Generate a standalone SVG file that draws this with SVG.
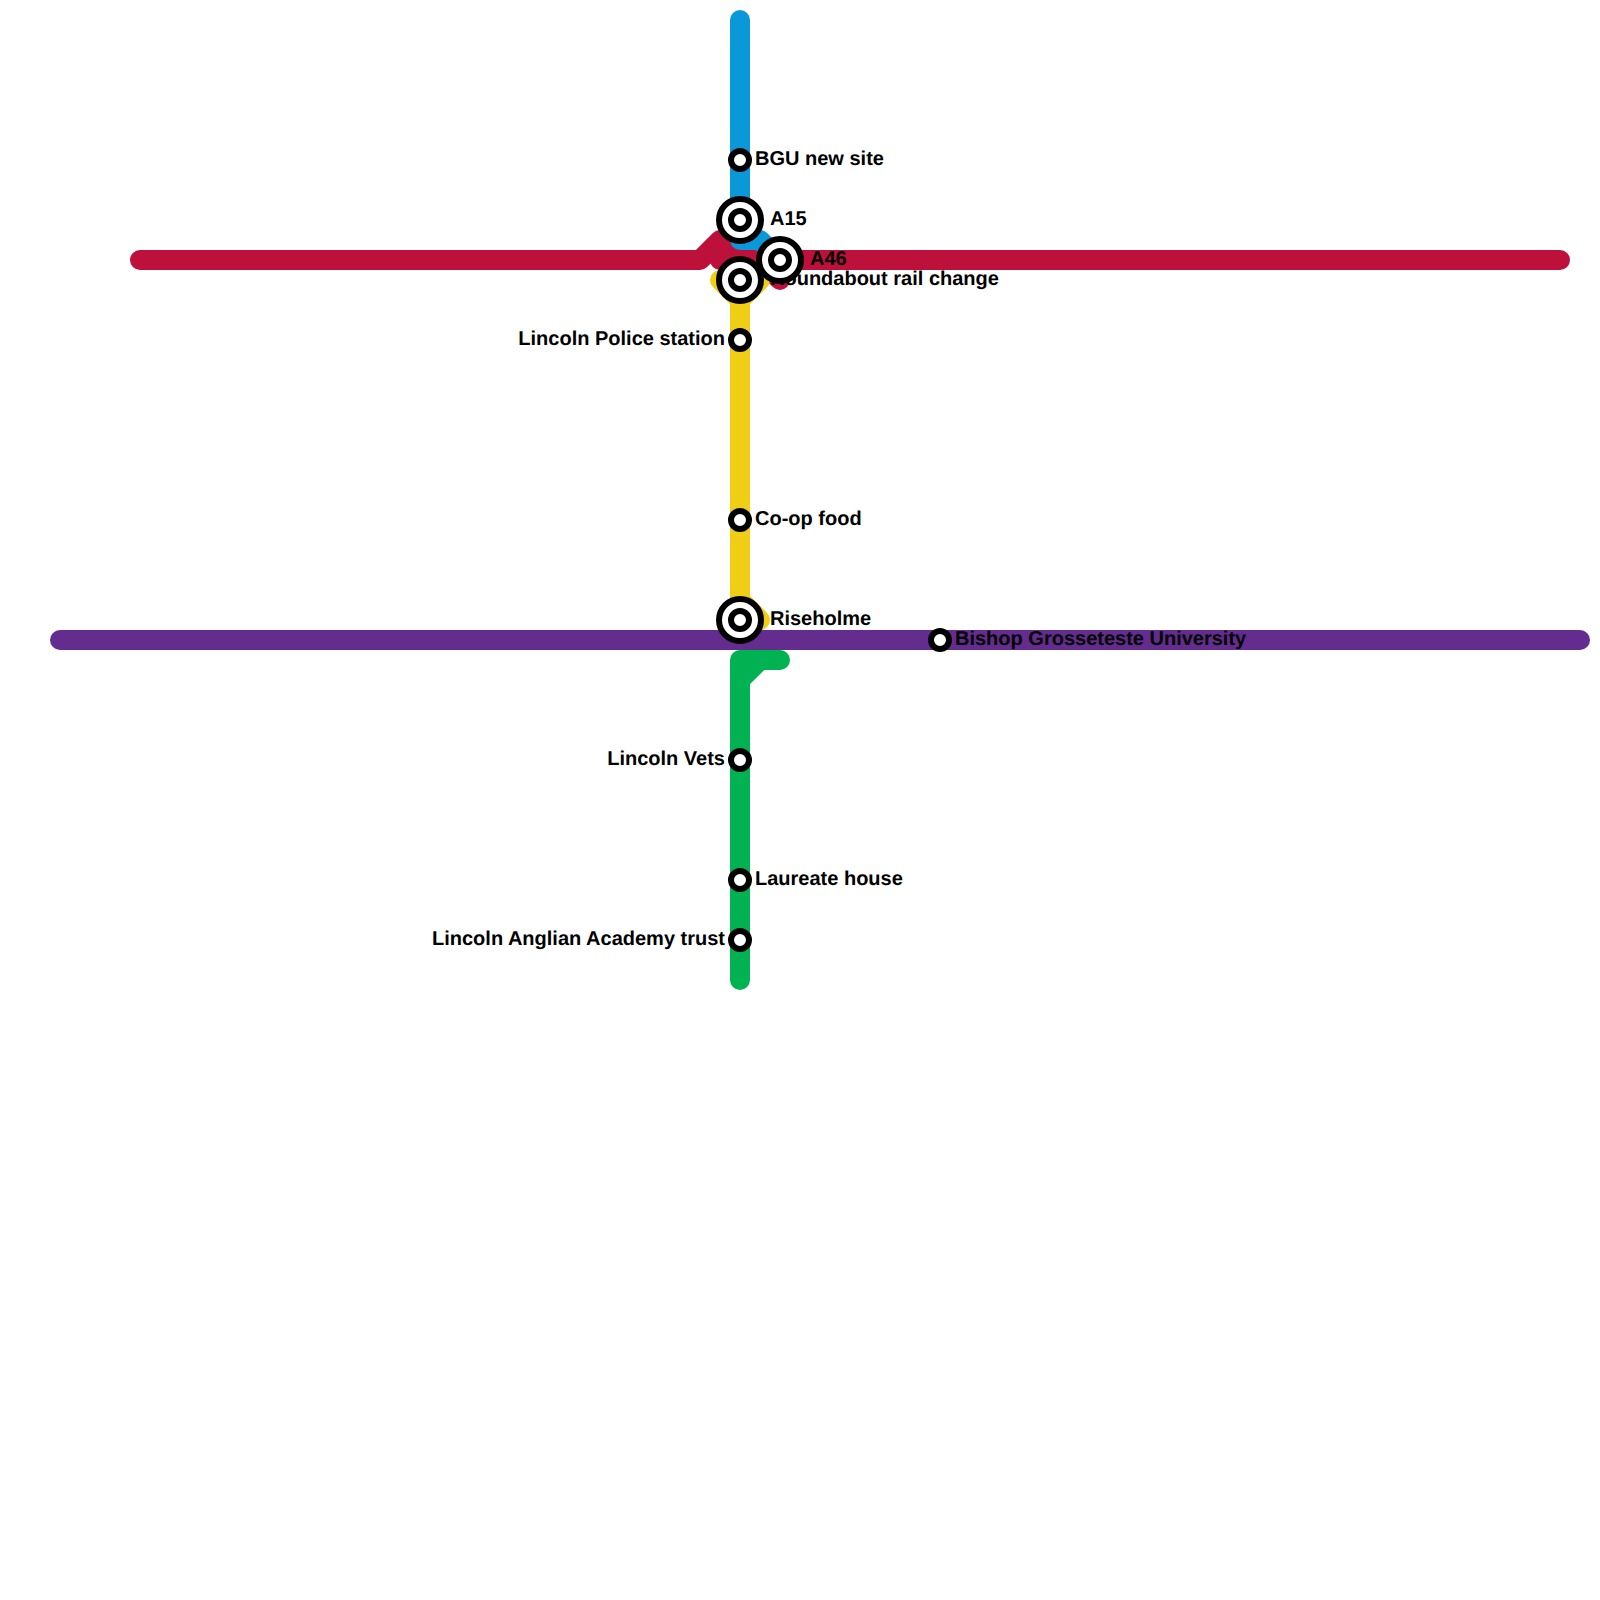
<svg xmlns="http://www.w3.org/2000/svg" width="1600" height="1600" viewBox="0 0 1600 1600">
<style>
.l{fill:none;stroke-width:20;stroke-linecap:round;stroke-linejoin:round}
.s{fill:#fff;stroke:#000;stroke-width:6}
text{font-family:"Liberation Sans",Arial,sans-serif;font-weight:bold;font-size:20px;fill:#000;text-rendering:geometricPrecision}
.e{text-anchor:end}
</style>
<rect width="1600" height="1600" fill="#fff"/>
<g id="connectors">
<path class="l" stroke="#bd103b" d="M140 260H700L720 240H740L780 280M780 260H1560M720 240V260H760"/>
<path class="l" stroke="#0b98d8" d="M740 20V240H760L780 260"/>
<path class="l" stroke="#f0ce15" d="M720 280L740 300L760 280M740 300V600L760 620"/>
<path class="l" stroke="#652c90" d="M60 640H1580"/>
<path class="l" stroke="#00b251" d="M740 980V660H780M740 680L760 660"/>
</g>
<g id="st-bgu"><circle class="s" cx="740" cy="160" r="9"/><text x="755" y="165">BGU new site</text></g>
<g id="st-a15"><circle class="s" cx="740" cy="220" r="21"/><circle class="s" cx="740" cy="220" r="9"/><text x="770" y="225">A15</text></g>
<g id="st-roundabout"><circle class="s" cx="740" cy="280" r="21"/><circle class="s" cx="740" cy="280" r="9"/><text x="770" y="285">Roundabout rail change</text></g>
<g id="st-a46"><circle class="s" cx="780" cy="260" r="21"/><circle class="s" cx="780" cy="260" r="9"/><text x="810" y="265">A46</text></g>
<g id="st-police"><circle class="s" cx="740" cy="340" r="9"/><text class="e" x="725" y="345">Lincoln Police station</text></g>
<g id="st-coop"><circle class="s" cx="740" cy="520" r="9"/><text x="755" y="525">Co-op food</text></g>
<g id="st-riseholme"><circle class="s" cx="740" cy="620" r="21"/><circle class="s" cx="740" cy="620" r="9"/><text x="770" y="625">Riseholme</text></g>
<g id="st-bishop"><circle class="s" cx="940" cy="640" r="9"/><text x="955" y="645">Bishop Grosseteste University</text></g>
<g id="st-vets"><circle class="s" cx="740" cy="760" r="9"/><text class="e" x="725" y="765">Lincoln Vets</text></g>
<g id="st-laureate"><circle class="s" cx="740" cy="880" r="9"/><text x="755" y="885">Laureate house</text></g>
<g id="st-academy"><circle class="s" cx="740" cy="940" r="9"/><text class="e" x="725" y="945">Lincoln Anglian Academy trust</text></g>
</svg>
